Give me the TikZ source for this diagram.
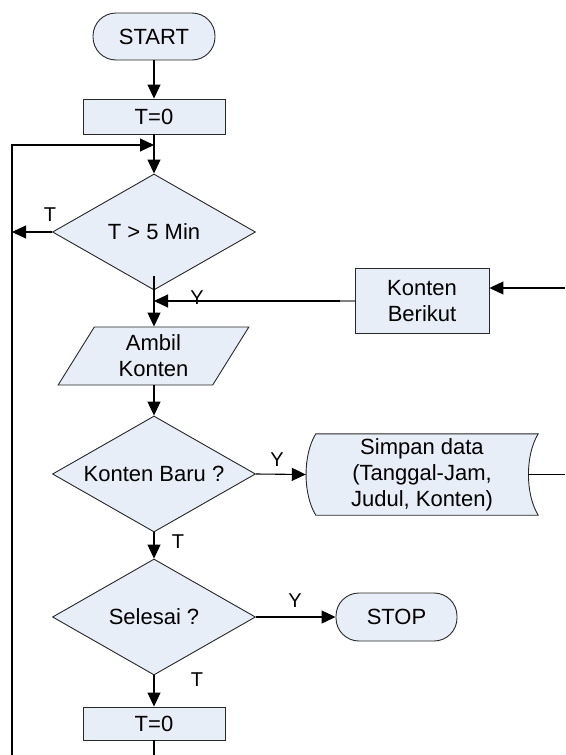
\documentclass[tikz,border=0pt]{standalone}
\usepackage{fontspec}
\setmainfont{Liberation Sans}
\usetikzlibrary{shapes.geometric,arrows.meta}
\definecolor{boxfill}{RGB}{232,238,247}
\definecolor{edge}{RGB}{40,40,40}

\begin{document}
\begin{tikzpicture}[x=1pt,y=-1pt,
  every node/.style={font=\fontsize{22}{26}\selectfont},
  base/.style={draw=edge, fill=boxfill, line width=0.9pt, align=center, inner sep=2pt},
  term/.style={base, rectangle, rounded corners=23pt, minimum width=122pt, minimum height=47pt},
  proc/.style={base, rectangle, minimum width=142pt, minimum height=35pt},
  decide/.style={base, diamond, aspect=1.75, minimum width=203pt, minimum height=116pt},
  io/.style={base, trapezium, trapezium left angle=64, trapezium right angle=116,
             trapezium stretches=true, minimum width=191pt, minimum height=58pt},
  lbl/.style={inner sep=0pt, font=\fontsize{20}{24}\selectfont},
  flow/.style={line width=1.1pt, -{Triangle[length=14pt,width=13pt]}},
  wire/.style={line width=1.1pt}
]
\useasboundingbox (0,0) rectangle (565,755);

% shapes
\node[term] (start) at (154,36.5) {START};
\node[proc] (t0a) at (154,116.5) {T=0};
\node[decide] (d1) at (154,232) {T > 5 Min};
\node[io] (ambil) at (153.5,356) {Ambil\\Konten};
\node[proc, minimum width=134pt, minimum height=65pt] (kb) at (422,301) {Konten\\Berikut};
\node[decide] (d2) at (154,474) {Konten Baru ?};
\node[decide] (d3) at (154,617) {Selesai ?};
\node[term, minimum width=121pt, minimum height=48pt] (stop) at (396.5,617) {STOP};
\node[proc, minimum height=33pt] (t0b) at (154,723.5) {T=0};

% stored-data shape: curved left and right sides
\node[minimum width=232pt, minimum height=81pt, inner sep=0pt] (simpan) at (422,474.5) {};
\filldraw[draw=edge, fill=boxfill, line width=0.9pt]
  ([xshift=10pt]simpan.north west)
  .. controls ([xshift=-3pt,yshift=-21pt]simpan.north west)
  and ([xshift=-3pt,yshift=21pt]simpan.south west)
  .. ([xshift=10pt]simpan.south west)
  -- (simpan.south east)
  .. controls ([xshift=-13pt,yshift=21pt]simpan.south east)
  and ([xshift=-13pt,yshift=-21pt]simpan.north east)
  .. (simpan.north east) -- cycle;
\node[align=center] at (simpan) {Simpan data\\(Tanggal-Jam,\\Judul, Konten)};

% loose ends and junctions
\coordinate (j0) at (154,145);
\coordinate (tl) at (12,145);
\coordinate (bl) at (12,755);
\coordinate (tleft) at (12,232);
\coordinate (j1) at (154,301);
\coordinate (kin) at (565,288);
\coordinate (sout) at (565,474.5);
\coordinate (bot) at (154,755);

% connectors
\draw[flow] (start) -- (t0a);
\draw[flow] (t0a.south) -- (d1.north);
\draw[flow] (bl) -- (tl) -- (j0);
\draw[flow] (d1.west) -- (tleft);
\draw[flow] ([yshift=14pt]d1.south) -- (d1.south |- ambil.north);
\draw[wire, draw=gray] (kb.west) -- ++(-15,0);
\draw[flow] ([xshift=-15pt]kb.west) -- (j1);
\draw[flow] (kin) -- (kin -| kb.east);
\draw[flow] (d1.south |- ambil.south) -- (d2.north);
\draw[flow] (d2.east) -- (simpan.west);
\draw[wire] ([xshift=-10pt]simpan.east) -- (sout);
\draw[flow] (d2.south) -- (d3.north);
\draw[flow] (d3.east) -- (stop.west);
\draw[flow] (d3.south) -- (t0b.north);
\draw[wire] (t0b.south) -- (bot);

% branch labels
\node[lbl] at (50,215) {T};
\node[lbl] at (197,298) {Y};
\node[lbl] at (277,460) {Y};
\node[lbl] at (178,542) {T};
\node[lbl] at (295,601) {Y};
\node[lbl] at (197,680) {T};
\end{tikzpicture}
\end{document}
